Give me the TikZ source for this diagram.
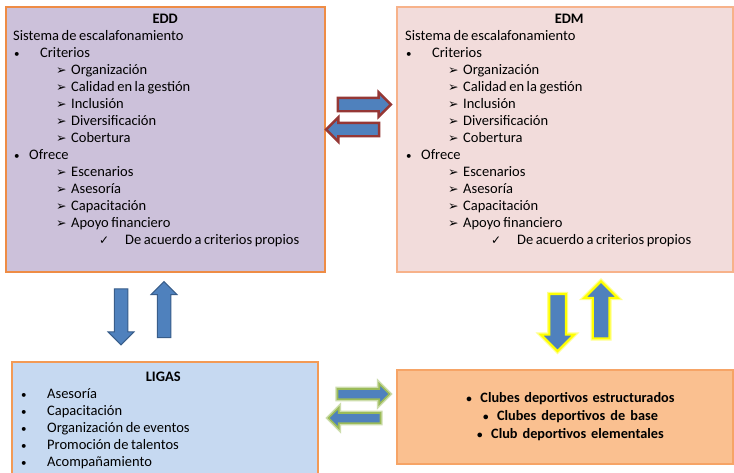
\documentclass[tikz,border=0pt]{standalone}
\usepackage{fontspec}
\setmainfont{Carlito}
\newfontfamily\symfont{DejaVu Sans}
\usetikzlibrary{shapes.arrows}
\definecolor{eddfill}{HTML}{CCC1DA}
\definecolor{eddline}{HTML}{EE8C45}
\definecolor{edmfill}{HTML}{F2DCDB}
\definecolor{edmline}{HTML}{F7B28A}
\definecolor{ligfill}{HTML}{C6D9F1}
\definecolor{ligline}{HTML}{F39A55}
\definecolor{clubfill}{HTML}{FAC090}
\definecolor{clubline}{HTML}{F6A466}
\definecolor{arrblue}{HTML}{4F81BD}
\definecolor{arrred}{HTML}{953735}
\definecolor{arrdark}{HTML}{385D8A}
\definecolor{glowgreen}{HTML}{9BBB59}
\definecolor{glowyellow}{HTML}{FFFF00}
\newcommand\arrsym{{\symfont\fontsize{12.5}{10}\selectfont ➢}}
\newcommand\chksym{{\symfont\fontsize{12}{10}\selectfont ✓}}
\newcommand\bul{{\fontsize{11}{10}\selectfont •}}
\newcommand\tightsp{\spaceskip=2.6pt plus 1pt minus 0.5pt\relax}
\newcommand\critline[1]{\hspace*{43pt}\makebox[15pt][l]{\arrsym}#1}
\newcommand\sysbody[2]{\tightsp\makebox[#2][c]{\bfseries #1}\\
Sistema de escalafonamiento\\
\hspace*{1pt}\makebox[26pt][l]{\bul}Criterios\\
\critline{Organización}\\
\critline{Calidad en la gestión}\\
\critline{Inclusión}\\
\critline{Diversificación}\\
\critline{Cobertura}\\
\hspace*{1pt}\makebox[15pt][l]{\bul}Ofrece\\
\critline{Escenarios}\\
\critline{Asesoría}\\
\critline{Capacitación}\\
\critline{Apoyo financiero}\\
\hspace*{86pt}\makebox[26pt][l]{\chksym}De acuerdo a criterios propios}
\tikzset{
  boxshape/.style={draw, line width=1.3pt, inner sep=0pt},
  txt/.style={inner sep=0pt, anchor=base west, align=left, text width=330pt,
    font=\fontsize{14.5}{17}\selectfont},
  redarr/.style={single arrow, draw=arrred, line width=2.4pt, fill=arrblue,
    inner xsep=0pt, inner ysep=5.5pt, minimum height=53pt, minimum width=22pt,
    single arrow head extend=5.5pt},
  bluearr/.style={single arrow, draw=arrdark, line width=1pt, fill=arrblue,
    inner ysep=0pt, inner xsep=6.25pt, minimum height=56pt, minimum width=25pt,
    single arrow head extend=6.25pt},
  yelarr/.style={single arrow, draw=glowyellow, line width=2pt, fill=arrblue,
    preaction={draw=glowyellow!45, line width=4.5pt},
    inner ysep=0pt, inner xsep=7.25pt, minimum height=57pt, minimum width=31pt,
    single arrow head extend=8.25pt},
  grnarr/.style={single arrow, draw=glowgreen, line width=1.6pt, fill=arrblue,
    preaction={draw=glowgreen!50, line width=4.5pt},
    inner xsep=0pt, inner ysep=4.25pt, minimum height=52pt, minimum width=19pt,
    single arrow head extend=5.25pt}
}
\begin{document}
\begin{tikzpicture}[x=1pt,y=-1pt]
\useasboundingbox (0,0) rectangle (734,472);
\fill[white] (0,0) rectangle (734,472);
\clip (0,0) rectangle (734,472);
% boxes
\node[boxshape, draw=eddline, fill=eddfill, minimum width=319pt, minimum height=265pt] (edd) at (165.5,139.5) {};
\node[boxshape, draw=edmline, fill=edmfill, minimum width=336pt, minimum height=265pt] (edm) at (565,139.5) {};
\node[boxshape, draw=ligline, fill=ligfill, minimum width=306pt, minimum height=120pt] (ligas) at (165,422) {};
\node[boxshape, draw=clubline, fill=clubfill, minimum width=336pt, minimum height=94pt] (clubes) at (565,417) {};
% texts
\node[txt] (eddtxt) at (13,23.7) {\sysbody{EDD}{304pt}};
\node[txt] (edmtxt) at (405,23.7) {\sysbody{EDM}{328pt}};
\node[txt] (ligtxt) at (21,381.7) {\tightsp\makebox[284pt][c]{\bfseries LIGAS}\\
\makebox[26pt][l]{\bul}Asesoría\\
\makebox[26pt][l]{\bul}Capacitación\\
\makebox[26pt][l]{\bul}Organización de eventos\\
\makebox[26pt][l]{\bul}Promoción de talentos\\
\makebox[26pt][l]{\bul}Acompañamiento};
\node[inner sep=0pt, anchor=base, align=center, text width=320pt,
  font=\fontsize{14.3}{18}\selectfont\bfseries] (clubtxt) at (570.5,402.5)
  {\tightsp\makebox[14pt][l]{\bul}Clubes deportivos estructurados\\
   \makebox[14pt][l]{\bul}Clubes deportivos de base\\
   \makebox[14pt][l]{\bul}Club deportivos elementales};
% arrows
\node[redarr] (ra1) at (361,104.5) {};
\node[redarr, shape border rotate=180] (ra2) at (356,129.5) {};
\node[bluearr, shape border rotate=270] (la1) at (121,313.5) {};
\node[bluearr, shape border rotate=90] (la2) at (164,313) {};
\node[yelarr, shape border rotate=270] (ya1) at (557.5,318.5) {};
\node[yelarr, shape border rotate=90] (ya2) at (601,314) {};
\node[grnarr] (ga1) at (361,394) {};
\node[grnarr, shape border rotate=180] (ga2) at (357,418) {};
\end{tikzpicture}
\end{document}
